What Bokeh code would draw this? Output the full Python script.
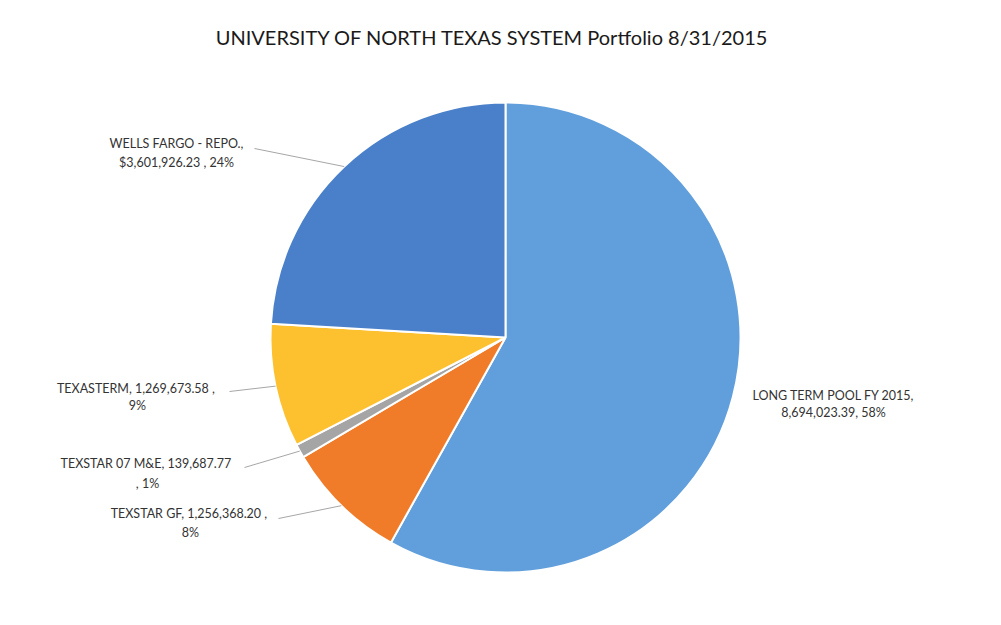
import math
from bokeh.plotting import figure
from bokeh.models import Range1d, ColumnDataSource
from bokeh.core.properties import value
from bokeh.embed import file_html
from bokeh.resources import INLINE

# ---- data ----
categories = ["LONG TERM POOL FY 2015", "TEXSTAR GF", "TEXSTAR 07 M&E", "TEXASTERM", "WELLS FARGO - REPO."]
amounts = [8694023.39, 1256368.20, 139687.77, 1269673.58, 3601926.23]
label_line1 = ["LONG TERM POOL FY 2015,", "TEXSTAR GF,  1,256,368.20 ,", "TEXSTAR 07 M&E,  139,687.77",
               "TEXASTERM,  1,269,673.58 ,", "WELLS FARGO - REPO.,"]
label_line2 = ["8,694,023.39, 58%", "8%", ", 1%", "9%", "$3,601,926.23 , 24%"]
title_text = "UNIVERSITY OF NORTH TEXAS SYSTEM Portfolio 8/31/2015"

# ---- style / layout ----
colors = ["#619fdc", "#f07c2a", "#a5a5a5", "#fdc02f", "#4a80c9"]
W, H = 985, 609
def px(x): return x
def py(y): return H - y
cx, cy, R = px(505), py(337), 235
# label centers (image px) and leader end points
label_pos = [(833, 395, 412), (190, 513, 532), (147, 463, 483), (137, 388, 405), (176, 143, 162)]
leader_end = [None, (278, 518), (244, 467), (229, 391), (254, 148)]

total = sum(amounts)
starts, ends, mids = [], [], []
cum = 0.0
for a in amounts:
    s = math.pi / 2 - 2 * math.pi * cum / total
    cum += a
    e = math.pi / 2 - 2 * math.pi * cum / total
    starts.append(s); ends.append(e); mids.append((s + e) / 2)

p = figure(width=W, height=H, output_backend="svg", toolbar_location=None,
           x_range=Range1d(0, W), y_range=Range1d(0, H), min_border=0,
           outline_line_color=None, background_fill_color="white", border_fill_color="white")
p.axis.visible = False
p.grid.visible = False

src = ColumnDataSource(dict(start=starts, end=ends, color=colors, cat=categories))
p.wedge(x=cx, y=cy, radius=R, start_angle="start", end_angle="end", direction="clock",
        fill_color="color", line_color="white", line_width=2, source=src)

# leader lines
for i, le in enumerate(leader_end):
    if le is None:
        continue
    ex = cx + R * math.cos(mids[i])
    ey = cy + R * math.sin(mids[i])
    p.line([px(le[0]), ex], [py(le[1]), ey], line_color="#a6a6a6", line_width=1)

font = value("Lato")
p.text(x=[px(l[0]) for l in label_pos], y=[py(l[1]) for l in label_pos], text=label_line1,
       text_align="center", text_baseline="middle", text_font=font, text_font_size="12.5px",
       text_color="#333333")
p.text(x=[px(l[0]) for l in label_pos], y=[py(l[2]) for l in label_pos], text=label_line2,
       text_align="center", text_baseline="middle", text_font=font, text_font_size="12.5px",
       text_color="#333333")

p.text(x=[px(492)], y=[py(36)], text=[title_text], text_align="center", text_baseline="middle",
       text_font=font, text_font_size="20px", text_color="#1a1a1a")

open("out.html", "w").write(file_html(p, INLINE))
